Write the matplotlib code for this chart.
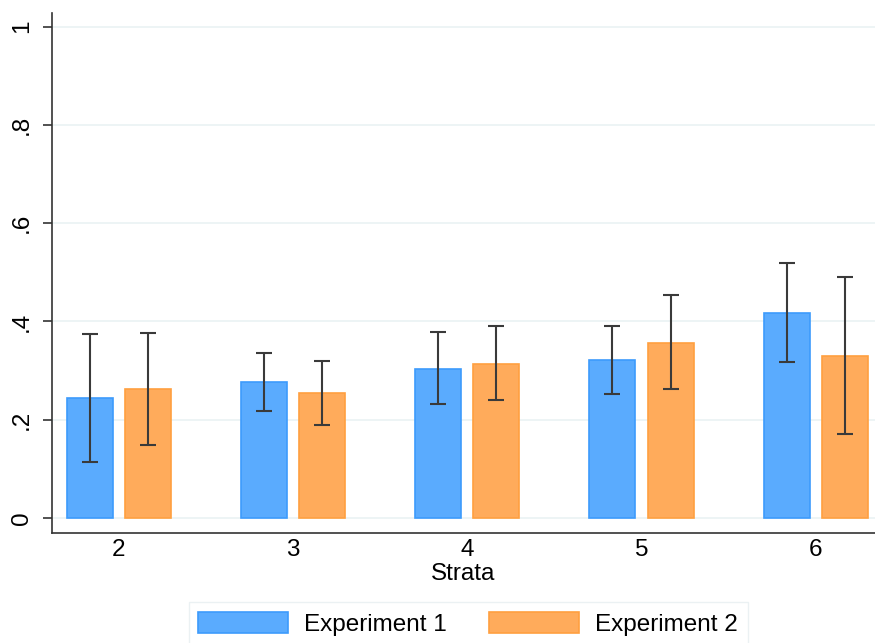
import matplotlib
matplotlib.use('Agg')
import matplotlib.pyplot as plt
import numpy as np

plt.rcParams['font.family'] = ['Liberation Sans', 'DejaVu Sans']

strata = [2, 3, 4, 5, 6]
exp1 = [0.244, 0.277, 0.303, 0.321, 0.418]
exp1_lo = [0.114, 0.218, 0.232, 0.252, 0.318]
exp1_hi = [0.375, 0.336, 0.378, 0.391, 0.519]
exp2 = [0.262, 0.254, 0.313, 0.357, 0.330]
exp2_lo = [0.148, 0.189, 0.240, 0.262, 0.171]
exp2_hi = [0.376, 0.319, 0.390, 0.453, 0.490]
yticks = [0, 0.2, 0.4, 0.6, 0.8, 1]
ylabels = ['0', '.2', '.4', '.6', '.8', '1']

x = np.array(strata, dtype=float)
w = 0.264
off = 0.167
fs = 17.5

fig = plt.figure(figsize=(8.75, 6.43), dpi=100)
ax = fig.add_axes([0.0591, 0.171, 0.9409, 0.809])

ax.bar(x - off, exp1, w, color='#5aabfe', edgecolor='#3d9bfc', linewidth=1.2,
       label='Experiment 1', zorder=2)
ax.bar(x + off, exp2, w, color='#ffab5b', edgecolor='#ffa040', linewidth=1.2,
       label='Experiment 2', zorder=2)

e1 = np.array(exp1)
e2 = np.array(exp2)
ax.errorbar(x - off, e1, yerr=[e1 - np.array(exp1_lo), np.array(exp1_hi) - e1],
            fmt='none', ecolor='#3a3a3a', elinewidth=1.5, capsize=6, capthick=1.5, zorder=3)
ax.errorbar(x + off, e2, yerr=[e2 - np.array(exp2_lo), np.array(exp2_hi) - e2],
            fmt='none', ecolor='#3a3a3a', elinewidth=1.5, capsize=6, capthick=1.5, zorder=3)

ax.set_xlim(1.615, 6.34)
ax.set_ylim(-0.0305, 1.028)
ax.set_yticks(yticks)
ax.set_yticklabels(ylabels, rotation=90, va='center', fontsize=fs)
ax.set_xticks(strata)
ax.set_xticklabels([str(s) for s in strata], fontsize=fs)
ax.set_xlabel('Strata', fontsize=fs, labelpad=2)
ax.grid(axis='y', color='#eaf2f3', linewidth=1.2, zorder=0)
ax.set_axisbelow(True)
for s in ['top', 'right']:
    ax.spines[s].set_visible(False)
for s in ['left', 'bottom']:
    ax.spines[s].set_color('#333333')
    ax.spines[s].set_linewidth(1.2)
ax.tick_params(axis='y', direction='out', length=6.5, width=1.2, color='#333333', pad=7)
ax.tick_params(axis='x', length=0, pad=4)

leg = fig.legend(loc='upper center', bbox_to_anchor=(0.535, 0.0638), ncol=2,
                 fontsize=fs, frameon=True, fancybox=False, handlelength=3.7,
                 handleheight=1.0, handletextpad=0.66, columnspacing=1.73,
                 borderpad=0.4, borderaxespad=0)
leg.get_frame().set_edgecolor('#e6eef0')
leg.get_frame().set_linewidth(1.0)

fig.savefig('out.png', dpi=100)
